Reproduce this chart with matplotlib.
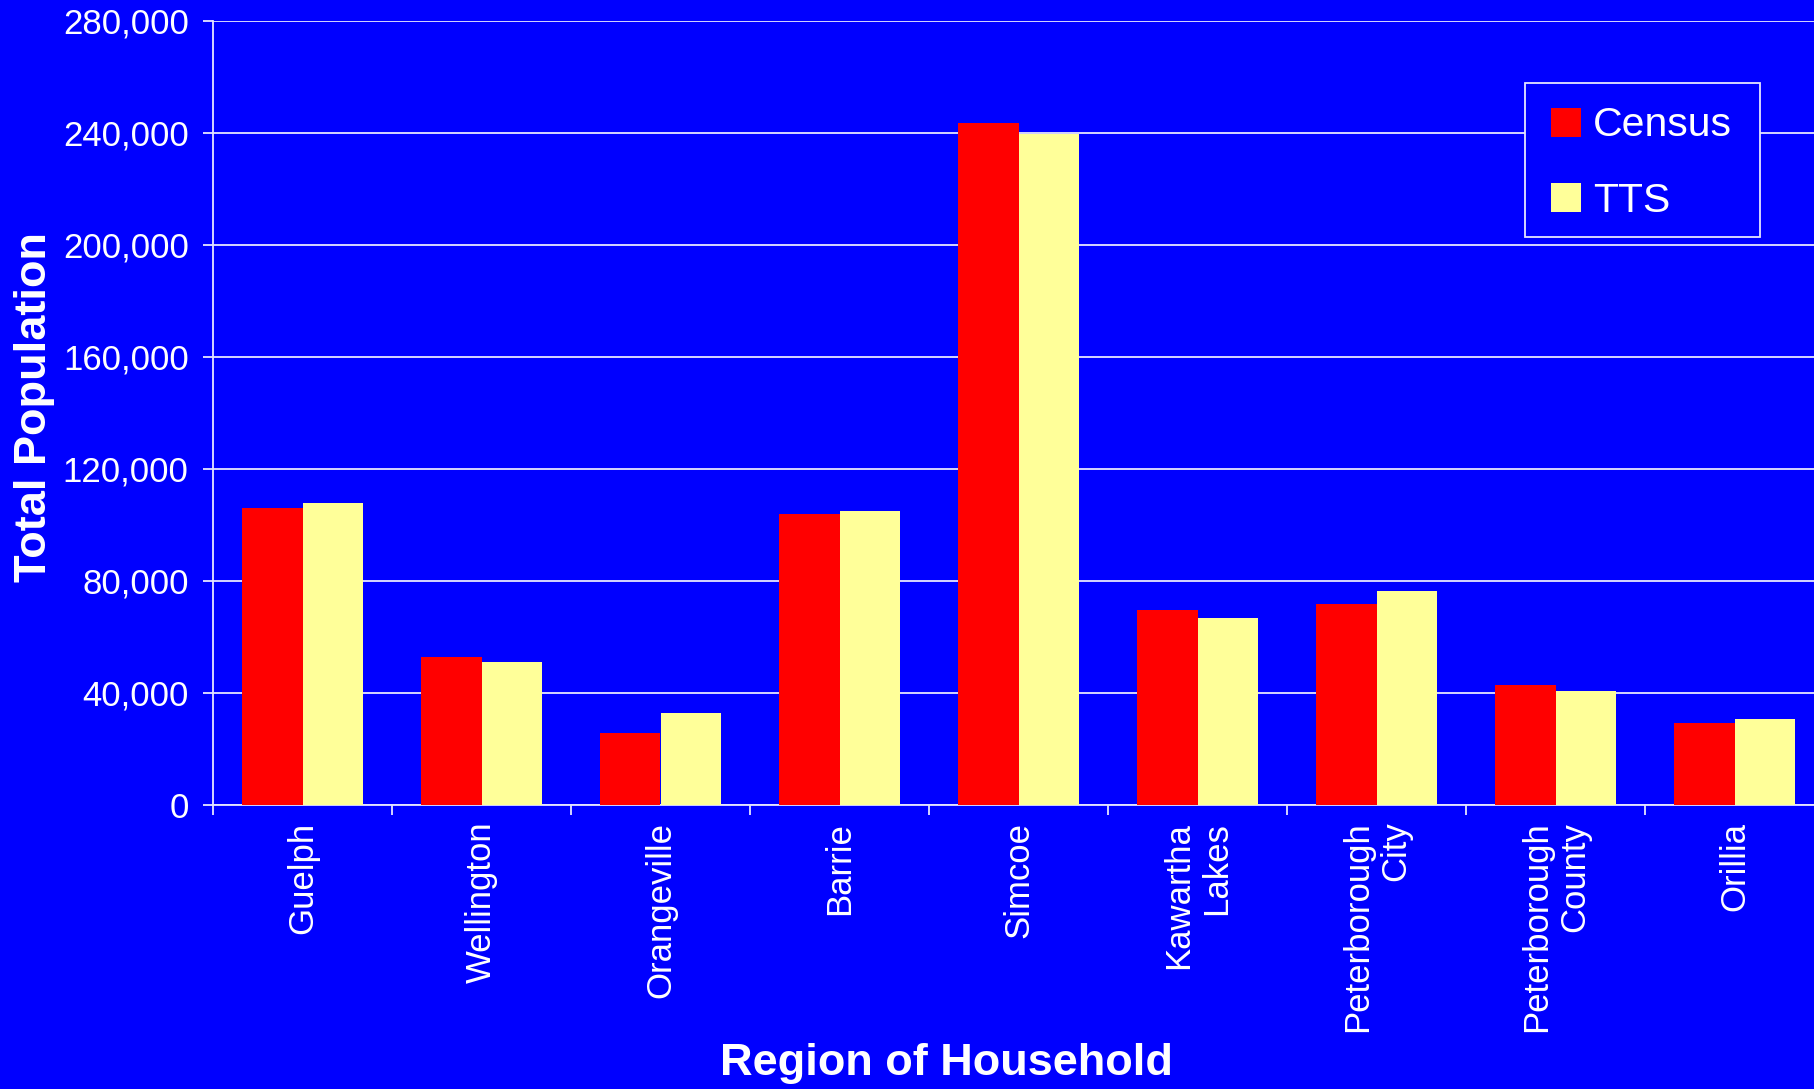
import matplotlib
matplotlib.use("Agg")
import matplotlib.pyplot as plt
import numpy as np
from matplotlib.ticker import FuncFormatter, FixedLocator
from matplotlib.patches import Rectangle

plt.rcParams['font.family'] = ['Liberation Sans', 'DejaVu Sans']

categories = ["Guelph", "Wellington", "Orangeville", "Barrie", "Simcoe",
              "Kawartha\nLakes", "Peterborough\nCity", "Peterborough\nCounty", "Orillia"]
census = [106100, 52900, 25600, 104100, 243600, 69700, 71800, 42900, 29300]
tts = [107900, 51100, 33000, 104900, 239800, 66800, 76400, 40700, 30700]
yticks = [0, 40000, 80000, 120000, 160000, 200000, 240000, 280000]

BLUE = "#0000FF"
RED = "#FF0000"
YELLOW = "#FFFF99"
GRID = "#E6E6FF"

W, H = 1814, 1089
fig = plt.figure(figsize=(W/100, H/100), dpi=100, facecolor=BLUE)
ax = fig.add_axes([213/W, 1-805/H, 1611/W, 784/H])
ax.set_facecolor(BLUE)

x = np.arange(len(categories))
w = 0.337
ax.bar(x - w/2, census, width=w, color=RED, label="Census", zorder=3)
ax.bar(x + w/2, tts, width=w, color=YELLOW, label="TTS", zorder=3)

ax.set_xlim(-0.5, len(categories) - 0.5)
ax.set_ylim(0, 280000)

ax.set_yticks(yticks)
ax.yaxis.set_major_formatter(FuncFormatter(lambda v, p: f"{int(v):,}"))
ax.grid(axis='y', color=GRID, linewidth=1.3, zorder=0)
ax.set_axisbelow(True)

ax.set_xticks(x)
ax.set_xticklabels(categories, rotation=90, ha='center', va='top',
                   multialignment='right', fontsize=25, color='white')
ax.xaxis.set_minor_locator(FixedLocator(np.arange(-0.5, len(categories), 1.0)))
ax.tick_params(axis='x', which='major', length=0, pad=12)
ax.tick_params(axis='x', which='minor', length=7.5, width=1.3, color=GRID, direction='out')
ax.tick_params(axis='y', which='major', length=7.5, width=1.3, color=GRID,
               direction='out', labelsize=25, labelcolor='white', pad=10)

for s in ['top', 'right']:
    ax.spines[s].set_visible(False)
for s in ['left', 'bottom']:
    ax.spines[s].set_color(GRID)
    ax.spines[s].set_linewidth(1.3)

ax.set_ylabel("Total Population", fontsize=32.5, fontweight='bold', color='white')
ax.yaxis.set_label_coords((35-213)/1611, (805-407)/784)
ax.yaxis.label.set_va('center')
ax.yaxis.label.set_ha('center')
ax.set_xlabel("Region of Household", fontsize=32.5, fontweight='bold', color='white')
ax.xaxis.set_label_coords((947-213)/1611, (805-1064)/784)
ax.xaxis.label.set_va('center')

# legend frame
ax.add_patch(Rectangle((1525/W, 1-237/H), (1760-1525)/W, (237-83)/H,
                       transform=fig.transFigure, facecolor=BLUE, clip_on=False,
                       edgecolor=GRID, linewidth=1.3, zorder=5))
leg = ax.legend(loc='upper left', bbox_to_anchor=(1531/W, 1-86/H),
                bbox_transform=fig.transFigure, fontsize=29.5, frameon=False,
                handlelength=0.72, handleheight=0.72, handletextpad=0.3,
                labelspacing=0.91, borderpad=0.5, borderaxespad=0)
leg.set_zorder(6)
for t in leg.get_texts():
    t.set_color('white')

fig.savefig("out.png", dpi=100, facecolor=BLUE)
